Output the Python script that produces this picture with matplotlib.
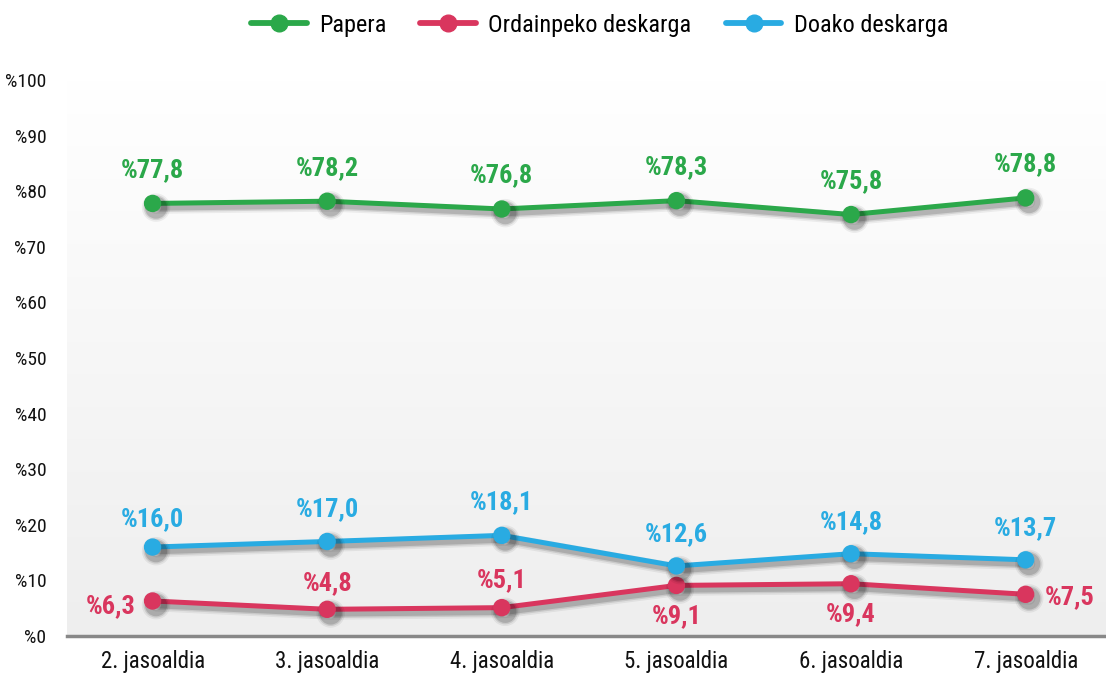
import numpy as np
import matplotlib
matplotlib.use("Agg")
import matplotlib.pyplot as plt
import matplotlib.patheffects as pe
from matplotlib.lines import Line2D
from matplotlib import font_manager

# pick a narrow family if there is one
names = {f.name for f in font_manager.fontManager.ttflist}
family = [n for n in ["Roboto Condensed", "Liberation Sans Narrow", "Roboto", "DejaVu Sans"] if n in names]
plt.rcParams['font.family'] = family

categories = ["2. jasoaldia", "3. jasoaldia", "4. jasoaldia", "5. jasoaldia", "6. jasoaldia", "7. jasoaldia"]
papera = [77.8, 78.2, 76.8, 78.3, 75.8, 78.8]
ordainpeko = [6.3, 4.8, 5.1, 9.1, 9.4, 7.5]
doako = [16.0, 17.0, 18.1, 12.6, 14.8, 13.7]
series_names = ["Papera", "Ordainpeko deskarga", "Doako deskarga"]
yticks = [0, 10, 20, 30, 40, 50, 60, 70, 80, 90, 100]

colors = ["#2ba84a", "#d9365e", "#29abe2"]

fig = plt.figure(figsize=(11.06, 6.77), dpi=100)
ax = fig.add_axes([67 / 1106, 41 / 677, 1 - 67 / 1106, 556 / 677])
x = np.arange(len(categories))
ax.set_xlim(-0.49, 5.46)
ax.set_ylim(0, 100)

# background gradient, white at top to light grey at bottom
grad = np.linspace(0, 1, 256).reshape(-1, 1)
cmap = matplotlib.colors.LinearSegmentedColormap.from_list("bg", ["#eeeeee", "#ffffff"])
ax.imshow(grad, extent=[-0.49, 5.46, 0, 100], origin="lower", aspect="auto",
          cmap=cmap, zorder=0)

# soft shadow: a few wide faint layers stacked
soft = [
    pe.SimpleLineShadow(offset=(2.5, -3), shadow_color="#000000", alpha=0.06, linewidth=9),
    pe.SimpleLineShadow(offset=(2.5, -3), shadow_color="#000000", alpha=0.10, linewidth=6.5),
    pe.SimpleLineShadow(offset=(2.5, -3), shadow_color="#000000", alpha=0.15, linewidth=4.5),
    pe.Normal(),
]

for vals, col, name in zip([papera, ordainpeko, doako], colors, series_names):
    ax.plot(x, vals, color=col, lw=3.6, marker="o", ms=11.5, label=name,
            solid_capstyle="round", zorder=3, path_effects=soft)

def fmt(v):
    return "%" + f"{v:.1f}".replace(".", ",")

# data labels
for i, v in enumerate(papera):
    ax.annotate(fmt(v), (x[i], v), xytext=(0, 24), textcoords="offset points",
                ha="center", va="center", color=colors[0], fontsize=19, fontweight="bold")
blue_offsets = [20, 23, 24, 23, 23, 23]
for i, v in enumerate(doako):
    ax.annotate(fmt(v), (x[i], v), xytext=(0, blue_offsets[i]), textcoords="offset points",
                ha="center", va="center", color=colors[2], fontsize=19, fontweight="bold")
red_offsets = [(-12, -4), (0, 19), (0, 20), (0, -22), (0, -22), (14, -2)]
red_ha = ["right", "center", "center", "center", "center", "left"]
for i, v in enumerate(ordainpeko):
    ax.annotate(fmt(v), (x[i], v), xytext=red_offsets[i], textcoords="offset points",
                ha=red_ha[i], va="center", color=colors[1], fontsize=19, fontweight="bold")

ax.set_xticks(x)
ax.set_xticklabels(categories, fontsize=16.5, color="#111111")
ax.set_yticks(yticks)
ax.set_yticklabels(["%" + str(t) for t in yticks], fontsize=14, color="#111111")
ax.tick_params(axis="both", length=0)
ax.tick_params(axis="y", pad=15)
ax.tick_params(axis="x", pad=10)
for s in ["top", "right", "left"]:
    ax.spines[s].set_visible(False)
ax.spines["bottom"].set_color("#888888")
ax.spines["bottom"].set_linewidth(2.5)
ax.spines["bottom"].set_zorder(4)

handles = [Line2D([], [], color=c, lw=4.2, marker="o", ms=12, solid_capstyle="round")
           for c in colors]
fig.legend(handles=handles, labels=series_names, loc="upper center",
           bbox_to_anchor=(0.542, 1.012), ncol=3, frameon=False, fontsize=17.5,
           handlelength=2.3, columnspacing=1.4, handletextpad=0.5)

fig.savefig("out.png", dpi=100)
